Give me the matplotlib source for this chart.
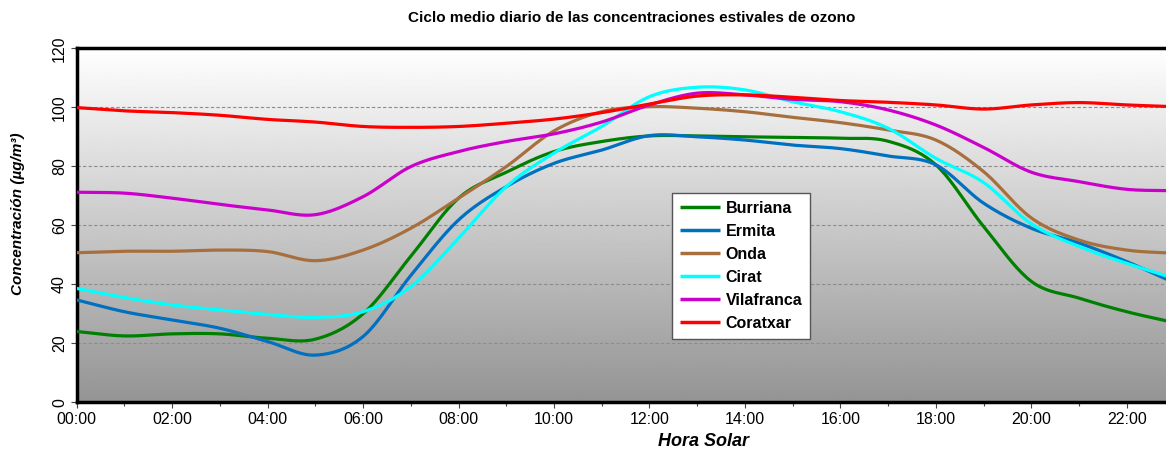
import numpy as np
import matplotlib
matplotlib.use("Agg")
import matplotlib.pyplot as plt

hours = list(range(24))
tick_labels = ["00:00", "02:00", "04:00", "06:00", "08:00", "10:00",
               "12:00", "14:00", "16:00", "18:00", "20:00", "22:00"]

burriana = [24.0, 22.5, 23.2, 23.2, 21.7, 21.4, 30.0, 49.5, 69.2, 78.0, 85.0, 88.4,
            90.3, 90.3, 90.0, 89.8, 89.5, 88.5, 80.5, 59.6, 41.0, 35.3, 30.7, 27.0]
ermita = [34.7, 30.7, 27.9, 25.1, 20.6, 16.0, 22.3, 43.0, 61.8, 73.1, 81.0, 85.5,
          90.4, 90.0, 88.9, 87.2, 86.0, 83.5, 80.5, 67.5, 59.0, 54.0, 47.7, 40.5]
onda = [50.7, 51.2, 51.2, 51.6, 51.1, 48.0, 51.6, 59.0, 69.2, 79.9, 92.0, 98.5,
        100.2, 99.7, 98.5, 96.6, 94.8, 92.3, 88.9, 78.2, 62.5, 55.0, 51.6, 50.5]
cirat = [38.6, 35.5, 33.0, 31.3, 29.8, 28.8, 30.7, 39.2, 55.6, 73.1, 84.5, 93.5,
         103.6, 106.8, 105.9, 101.9, 98.5, 92.9, 82.7, 74.5, 60.5, 52.8, 47.1, 42.0]
vilafranca = [71.2, 70.9, 69.2, 67.1, 65.2, 63.6, 69.7, 79.9, 85.0, 88.4, 91.0, 95.0,
              100.8, 104.8, 104.2, 102.7, 101.9, 99.1, 94.0, 86.4, 78.0, 74.8, 72.2, 71.7]
coratxar = [99.9, 98.8, 98.2, 97.3, 95.9, 95.0, 93.5, 93.2, 93.5, 94.6, 96.0, 98.2,
            101.1, 103.8, 104.2, 103.4, 102.3, 101.7, 100.8, 99.4, 100.8, 101.6, 100.8, 100.2]

series = [
    ("Burriana", burriana, "#008000"),
    ("Ermita", ermita, "#0070C0"),
    ("Onda", onda, "#A86F3E"),
    ("Cirat", cirat, "#00FFFF"),
    ("Vilafranca", vilafranca, "#CC00CC"),
    ("Coratxar", coratxar, "#FF0000"),
]


def smooth(x, y, n=20):
    """Catmull-Rom style smoothing (as Excel smoothed lines) for rendering."""
    x = np.asarray(x, float)
    y = np.asarray(y, float)
    m = np.zeros_like(y)
    m[1:-1] = (y[2:] - y[:-2]) / (x[2:] - x[:-2])
    m[0] = (y[1] - y[0]) / (x[1] - x[0])
    m[-1] = (y[-1] - y[-2]) / (x[-1] - x[-2])
    xs, ys = [], []
    for i in range(len(x) - 1):
        h = x[i + 1] - x[i]
        t = np.linspace(0, 1, n, endpoint=False)
        h00 = 2 * t**3 - 3 * t**2 + 1
        h10 = t**3 - 2 * t**2 + t
        h01 = -2 * t**3 + 3 * t**2
        h11 = t**3 - t**2
        xs.append(x[i] + t * h)
        ys.append(h00 * y[i] + h10 * h * m[i] + h01 * y[i + 1] + h11 * h * m[i + 1])
    xs.append([x[-1]])
    ys.append([y[-1]])
    return np.concatenate(xs), np.concatenate(ys)


plt.rcParams['font.family'] = ['Liberation Sans', 'DejaVu Sans']

fig = plt.figure(figsize=(11.66, 4.5), dpi=100)
ax = fig.add_axes([76.7 / 1166, (450 - 402.3) / 450, (1174.5 - 76.7) / 1166, (402.3 - 48.3) / 450])

# background gradient
grad = np.linspace(0.58, 1.0, 256).reshape(-1, 1)
ax.imshow(grad, cmap='gray', vmin=0, vmax=1, aspect='auto', origin='lower',
          extent=[0, 1, 0, 1], transform=ax.transAxes, zorder=0)

for yv in [20, 40, 60, 80, 100]:
    ax.axhline(yv, color='#8c8c8c', lw=0.8, ls=(0, (3, 2)), zorder=1)

for name, vals, col in series:
    xs, ys = smooth(hours, vals)
    ax.plot(xs, ys, color=col, lw=2.3, label=name, zorder=3, solid_capstyle='butt')

ax.set_xlim(0, 23)
ax.set_ylim(0, 120)
ax.set_xticks(range(0, 24, 2))
ax.set_xticklabels(tick_labels, fontsize=11.5)
ax.set_xticks(range(0, 24), minor=True)
ax.set_yticks(range(0, 121, 20))
ax.set_yticklabels([str(v) for v in range(0, 121, 20)], fontsize=11.5, rotation=90, va='center')
ax.tick_params(axis='both', which='both', direction='out', length=4, width=0.8, color='#444444')
ax.tick_params(axis='x', which='minor', length=3)
ax.tick_params(axis='x', pad=3)
ax.tick_params(axis='y', pad=3)

for s in ['left', 'bottom', 'top']:
    ax.spines[s].set_linewidth(2.5)
    ax.spines[s].set_color('black')
ax.spines['right'].set_visible(False)

fig.text(704 / 1166, 1 - 442 / 450, "Hora Solar", fontsize=13, fontweight='bold',
         fontstyle='italic', ha='center', va='center')
fig.text(18 / 1166, 1 - 214 / 450, "Concentración (µg/m³)", rotation=90, fontsize=11,
         fontweight='bold', fontstyle='italic', ha='center', va='center')

fig.text(632 / 1166, 1 - 18 / 450, "Ciclo medio diario de las concentraciones estivales de ozono",
         fontsize=11, fontweight='bold', ha='center', va='center')

leg = ax.legend(loc='upper left', bbox_to_anchor=(672 / 1166, 1 - 192.7 / 450),
                bbox_transform=fig.transFigure, frameon=True, fancybox=False,
                edgecolor='#555555', framealpha=1, borderpad=0.5, labelspacing=0.5,
                handlelength=2.5, handletextpad=0.35, borderaxespad=0,
                prop={'size': 11.5, 'weight': 'bold'})
leg.get_frame().set_linewidth(1.0)
leg.set_zorder(5)
for line in leg.get_lines():
    line.set_linewidth(2.5)

fig.savefig("out.png", dpi=100)
